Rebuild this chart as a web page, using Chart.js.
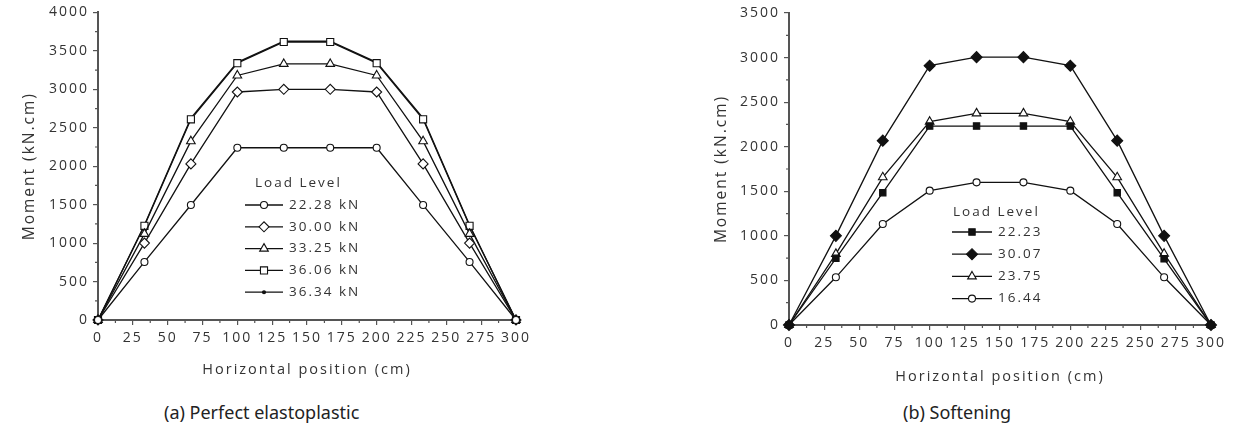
<!DOCTYPE html>
<html>
<head>
<meta charset="utf-8">
<script src="https://cdn.jsdelivr.net/npm/chart.js@4/dist/chart.umd.min.js"></script>
<style>
  body { margin: 0; background: #fff; width: 1238px; height: 444px; overflow: hidden; position: relative; }
  .box { position: absolute; }
  .caption { position: absolute; font-family: "Noto Sans", sans-serif; font-size: 18px; color: #222; white-space: nowrap; }
</style>
</head>
<body>
<div class="box" style="left:0;top:0;width:540px;height:390px"><canvas id="chartA"></canvas></div>
<div class="box" style="left:690px;top:0;width:548px;height:395px"><canvas id="chartB"></canvas></div>
<div class="caption" style="left:164px;top:400px">(a) Perfect elastoplastic</div>
<div class="caption" style="left:903px;top:400px">(b) Softening</div>
<script>
// positions along the beam (cm)
const positions = [0, 33.33, 66.67, 100, 133.33, 166.67, 200, 233.33, 266.67, 300];
const xTicks = [0, 25, 50, 75, 100, 125, 150, 175, 200, 225, 250, 275, 300];
const yTicksA = [0, 500, 1000, 1500, 2000, 2500, 3000, 3500, 4000];
const yTicksB = [0, 500, 1000, 1500, 2000, 2500, 3000, 3500];

// (a) perfect elastoplastic
const labelsA = ["22.28 kN", "30.00 kN", "33.25 kN", "36.06 kN", "36.34 kN"];
const load2228 = [0, 755, 1495, 2240, 2240, 2240, 2240, 1495, 755, 0];
const load3000 = [0, 1000, 2030, 2965, 3000, 3000, 2965, 2030, 1000, 0];
const load3325 = [0, 1120, 2325, 3180, 3330, 3330, 3180, 2325, 1120, 0];
const load3606 = [0, 1225, 2610, 3340, 3615, 3615, 3340, 2610, 1225, 0];
const load3634 = [0, 1235, 2625, 3350, 3625, 3625, 3350, 2625, 1235, 0];

// (b) softening
const labelsB = ["22.23", "30.07", "23.75", "16.44"];
const soft2223 = [0, 748, 1484, 2232, 2232, 2232, 2232, 1484, 742, 0];
const soft3007 = [0, 1000, 2068, 2909, 3005, 3005, 2909, 2068, 1000, 0];
const soft2375 = [0, 798, 1657, 2281, 2374, 2374, 2281, 1657, 800, 0];
const soft1644 = [0, 535, 1133, 1507, 1600, 1600, 1507, 1133, 535, 0];

const FONT = '"Open Sans", sans-serif';
const TEXT = '#333';
const AXIS = '#555';

function series(label, values, style, radius, filled) {
    return {
        label: label,
        data: values.map((v, i) => ({ x: positions[i], y: v })),
        borderColor: '#111',
        borderWidth: 1.3,
        pointStyle: style,
        pointRadius: radius,
        pointBorderWidth: 1.1,
        pointBorderColor: '#111',
        pointBackgroundColor: filled ? '#111' : '#fff',
        tension: 0,
        clip: false
    };
}

// letter spacing like the original figure
const spacing = {
    id: 'spacing',
    beforeLayout(chart) { chart.ctx.letterSpacing = '2px'; },
    beforeDraw(chart) { chart.ctx.letterSpacing = '2px'; }
};

// short minor ticks halfway between the labelled ones
const minorTicks = {
    id: 'minorTicks',
    afterDraw(chart) {
        const ctx = chart.ctx;
        const x = chart.scales.x, y = chart.scales.y;
        const area = chart.chartArea;
        ctx.save();
        ctx.strokeStyle = AXIS;
        ctx.lineWidth = 1.2;
        ctx.beginPath();
        const xt = x.ticks.map(t => t.value);
        for (let i = 0; i < xt.length - 1; i++) {
            const px = x.getPixelForValue((xt[i] + xt[i + 1]) / 2);
            ctx.moveTo(px, area.bottom);
            ctx.lineTo(px, area.bottom + 3);
        }
        const yt = y.ticks.map(t => t.value);
        for (let i = 0; i < yt.length - 1; i++) {
            const py = y.getPixelForValue((yt[i] + yt[i + 1]) / 2);
            ctx.moveTo(area.left, py);
            ctx.lineTo(area.left - 3, py);
        }
        ctx.stroke();
        ctx.restore();
    }
};

// legend with line through the marker, drawn inside the plot
const lineLegend = {
    id: 'lineLegend',
    afterDraw(chart, args, opts) {
        const ctx = chart.ctx;
        ctx.save();
        ctx.letterSpacing = '2px';
        ctx.font = '13.5px ' + FONT;
        ctx.fillStyle = TEXT;
        ctx.textBaseline = 'middle';
        ctx.textAlign = 'left';
        ctx.fillText('Load Level', opts.titleX, opts.titleY);
        chart.data.datasets.forEach((ds, i) => {
            const yy = opts.y0 + i * opts.gap;
            ctx.strokeStyle = '#111';
            ctx.lineWidth = 1.3;
            ctx.beginPath();
            ctx.moveTo(opts.x0, yy);
            ctx.lineTo(opts.x1, yy);
            ctx.stroke();
            ctx.fillStyle = ds.pointBackgroundColor;
            ctx.strokeStyle = ds.pointBorderColor;
            ctx.lineWidth = ds.pointBorderWidth;
            Chart.helpers.drawPoint(ctx, { pointStyle: ds.pointStyle, radius: ds.pointRadius, borderWidth: ds.pointBorderWidth }, (opts.x0 + opts.x1) / 2, yy);
            ctx.fillStyle = TEXT;
            ctx.fillText(ds.label, opts.x1 + 6, yy);
        });
        ctx.restore();
    }
};

function axes(yTicks, yMax, yWidth, xHeight, xTitlePad, yTitlePad) {
    return {
        x: {
            type: 'linear', min: 0, max: 300,
            afterBuildTicks: s => { s.ticks = xTicks.map(v => ({ value: v })); },
            afterFit: s => { s.height = xHeight; },
            grid: { drawOnChartArea: false, tickLength: 5, color: AXIS, lineWidth: 1.2 },
            border: { color: AXIS, width: 2 },
            ticks: { color: TEXT, font: { family: FONT, size: 14 }, padding: 5, maxRotation: 0, autoSkip: false, callback: v => String(v) },
            title: { display: true, text: 'Horizontal position (cm)', color: TEXT, font: { family: FONT, size: 14.5 }, padding: { bottom: xTitlePad } }
        },
        y: {
            type: 'linear', min: 0, max: yMax,
            afterBuildTicks: s => { s.ticks = yTicks.map(v => ({ value: v })); },
            afterFit: s => { s.width = yWidth; },
            grid: { drawOnChartArea: false, tickLength: 5, color: AXIS, lineWidth: 1.2 },
            border: { color: AXIS, width: 2 },
            ticks: { color: TEXT, font: { family: FONT, size: 14 }, padding: 4, callback: v => String(v) },
            title: { display: true, text: 'Moment (kN.cm)', color: TEXT, font: { family: FONT, size: 15.5 }, padding: { top: yTitlePad } }
        }
    };
}

new Chart(document.getElementById('chartA'), {
    type: 'line',
    data: {
        datasets: [
            series(labelsA[0], load2228, 'circle', 3.5, false),
            series(labelsA[1], load3000, 'rectRot', 5, false),
            series(labelsA[2], load3325, 'triangle', 5, false),
            series(labelsA[3], load3606, 'rect', 5, false),
            series(labelsA[4], load3634, 'circle', 1.5, true)
        ]
    },
    options: {
        responsive: true,
        maintainAspectRatio: false,
        animation: false,
        layout: { padding: { top: 11, right: 24, left: 0, bottom: 0 } },
        scales: axes(yTicksA, 4000, 98, 70, 11, 20),
        plugins: {
            legend: { display: false },
            tooltip: { enabled: false },
            lineLegend: { titleX: 255, titleY: 183, x0: 245, x1: 283, y0: 205, gap: 21.8 }
        }
    },
    plugins: [spacing, minorTicks, lineLegend]
});

new Chart(document.getElementById('chartB'), {
    type: 'line',
    data: {
        datasets: [
            series(labelsB[0], soft2223, 'rect', 4.5, true),
            series(labelsB[1], soft3007, 'rectRot', 5.5, true),
            series(labelsB[2], soft2375, 'triangle', 5, false),
            series(labelsB[3], soft1644, 'circle', 3.5, false)
        ]
    },
    options: {
        responsive: true,
        maintainAspectRatio: false,
        animation: false,
        layout: { padding: { top: 13, right: 27, left: 0, bottom: 0 } },
        scales: axes(yTicksB, 3500, 99, 70, 9, 22),
        plugins: {
            legend: { display: false },
            tooltip: { enabled: false },
            lineLegend: { titleX: 263, titleY: 212, x0: 262, x1: 302, y0: 232, gap: 22.2 }
        }
    },
    plugins: [spacing, minorTicks, lineLegend]
});
</script>
</body>
</html>
